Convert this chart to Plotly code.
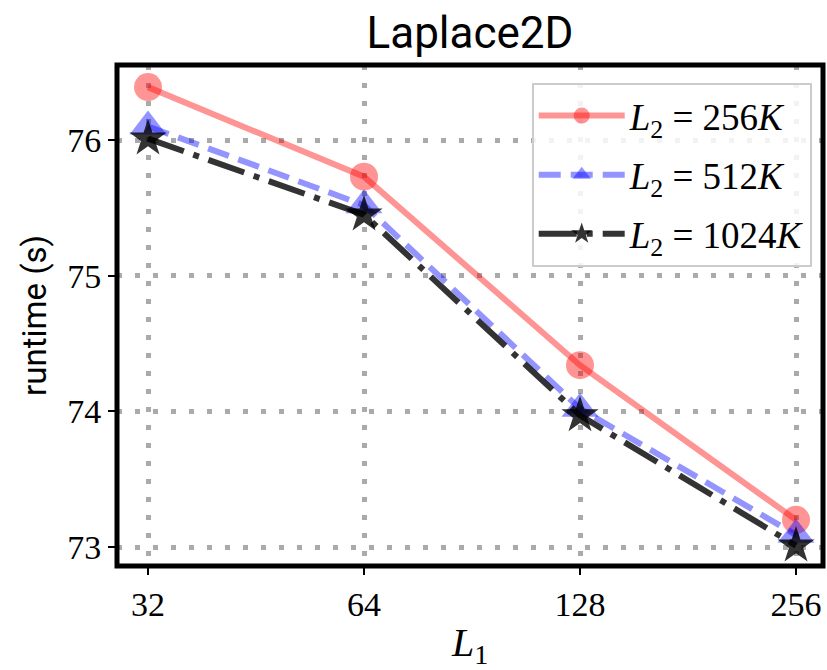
import math
import plotly.graph_objects as go

x_vals = [32, 64, 128, 256]
x_ticktext = ["32", "64", "128", "256"]
y_tickvals = [73, 74, 75, 76]
runtime_256k = [76.39, 75.73, 74.34, 73.20]
runtime_512k = [76.10, 75.52, 74.02, 73.09]
runtime_1024k = [76.01, 75.45, 73.97, 73.01]

serif = "Liberation Serif"
sans = "Roboto"

fig = go.Figure()
fig.add_trace(go.Scatter(
    x=x_vals, y=runtime_256k, mode="lines+markers", legendgroup="a",
    name="<i>L</i><sub>2</sub> = 256<i>K</i>",
    line=dict(color="rgba(255,0,0,0.42)", width=6),
    marker=dict(symbol="circle", size=28, color="rgba(255,0,0,0.42)", line=dict(width=0)),
))
fig.add_trace(go.Scatter(
    x=x_vals, y=runtime_512k, mode="lines+markers", legendgroup="b",
    name="<i>L</i><sub>2</sub> = 512<i>K</i>",
    line=dict(color="rgba(0,0,255,0.42)", width=6, dash="22px,10px"),
    marker=dict(symbol="triangle-up", size=32, color="rgba(0,0,255,0.42)", line=dict(width=0)),
))
fig.add_trace(go.Scatter(
    x=x_vals, y=runtime_1024k, mode="lines+markers", legendgroup="c",
    name="<i>L</i><sub>2</sub> = 1024<i>K</i>",
    line=dict(color="rgba(0,0,0,0.8)", width=6, dash="38px,10px,6px,10px"),
    marker=dict(symbol="star", size=28, color="rgba(0,0,0,0.8)", line=dict(width=0)),
))

grid = dict(showgrid=True, gridcolor="#aaaaaa", gridwidth=5, griddash="5px,13px")

fig.update_xaxes(
    type="log",
    range=[math.log10(32) - 0.0432, math.log10(256) + 0.0376],
    tickvals=x_vals, ticktext=x_ticktext,
    ticks="outside", ticklen=8, tickwidth=2, tickcolor="black",
    tickfont=dict(family=serif, size=34, color="black"),
    title=dict(text="<i>L</i><sub>1</sub>", font=dict(family=serif, size=40, color="black"), standoff=6),
    showline=False, zeroline=False, **grid,
)
fig.update_yaxes(
    range=[72.86, 76.553],
    tickvals=y_tickvals,
    ticks="outside", ticklen=8, tickwidth=2, tickcolor="black",
    tickfont=dict(family=serif, size=34, color="black"),
    title=dict(text="runtime (s)", font=dict(family=sans, size=33, color="black"), standoff=10),
    showline=False, zeroline=False, **grid,
)

fig.add_shape(type="rect", xref="paper", yref="paper", x0=0, y0=0, x1=1, y1=1,
              line=dict(color="black", width=5), layer="above")

fig.update_layout(
    width=827, height=670,
    margin=dict(l=117, r=4, t=65, b=104),
    paper_bgcolor="white", plot_bgcolor="white",
    title=dict(text="Laplace2D", xref="paper", x=0.5, xanchor="center", y=0.952, yanchor="middle",
               font=dict(family=sans, size=44, color="black")),
    legend=dict(
        x=0.984, y=0.964, xanchor="right", yanchor="top",
        bgcolor="rgba(255,255,255,0.85)", bordercolor="#cccccc", borderwidth=2,
        font=dict(family=serif, size=37, color="black"),
        itemwidth=86, tracegroupgap=8,
    ),
    showlegend=True,
)

fig.write_html("out.html")
